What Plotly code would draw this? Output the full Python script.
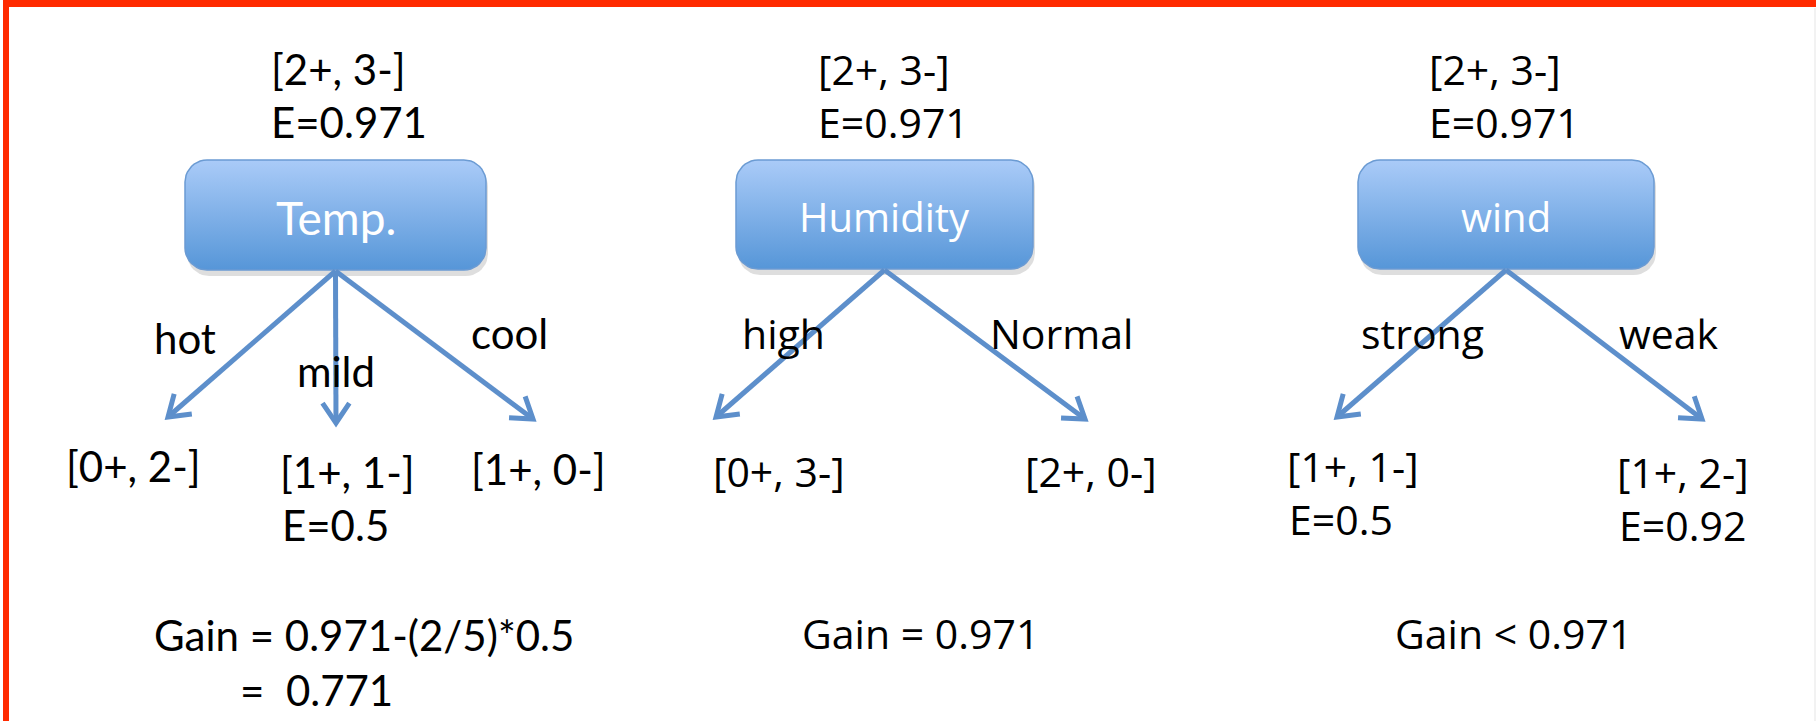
import math
import plotly.graph_objects as go

# --- diagram content -------------------------------------------------------
attributes = ["Temp.", "Humidity", "wind"]
parent_counts = ["[2+, 3-]", "[2+, 3-]", "[2+, 3-]"]
parent_entropy = ["E=0.971", "E=0.971", "E=0.971"]
branch_labels = [["hot", "mild", "cool"], ["high", "Normal"], ["strong", "weak"]]
child_counts = [["[0+, 2-]", "[1+, 1-]", "[1+, 0-]"], ["[0+, 3-]", "[2+, 0-]"], ["[1+, 1-]", "[1+, 2-]"]]
child_entropy = [["", "E=0.5", ""], ["", ""], ["E=0.5", "E=0.92"]]
gain_text = ["Gain = 0.971-(2/5)*0.5<br>        =  0.771", "Gain = 0.971", "Gain < 0.971"]

# --- layout (pixel space, y grows downward) --------------------------------
W, H = 1816, 721
fonts = ["Lato", "Open Sans", "Open Sans"]
fsize = [42, 41, 41]
label_size = [46, 40, 40]
boxes = [(185, 486, 160, 270), (736, 1033, 160, 269), (1358, 1654, 160, 269)]
head_x = [269, 816, 1427]
tips = [[(168, 417), (336, 423), (533, 419)], [(716, 417), (1085, 419)], [(1337, 417), (1702, 419)]]
label_pos = [[(185, 338), (336, 371), (509, 333)], [(783, 333), (1061, 333)], [(1422, 333), (1669, 333)]]
child_pos = [[(64, 466), (278, 472), (469, 469)], [(711, 471), (1023, 471)], [(1285, 466), (1615, 472)]]
gain_pos = [(152, 662, "left"), (920, 633, "center"), (1513, 633, "center")]

ARROW = "#5D8FCB"
BOX_TOP, BOX_BOT, BOX_LINE = "#AACBF8", "#5696D8", "#6B9BD3"


def rounded_rect(x0, x1, y0, y1, r=22, n=10):
    xs, ys = [], []
    corners = [(x1 - r, y0 + r, -90, 0), (x1 - r, y1 - r, 0, 90),
               (x0 + r, y1 - r, 90, 180), (x0 + r, y0 + r, 180, 270)]
    for cx, cy, a0, a1 in corners:
        for i in range(n + 1):
            a = math.radians(a0 + (a1 - a0) * i / n)
            xs.append(cx + r * math.cos(a))
            ys.append(cy + r * math.sin(a))
    xs.append(xs[0])
    ys.append(ys[0])
    return xs, ys


fig = go.Figure()
annotations = []

for k, name in enumerate(attributes):
    x0, x1, y0, y1 = boxes[k]
    cx = (x0 + x1) / 2
    font = dict(family=fonts[k], size=fsize[k], color="black")

    # shadow + gradient box
    sx, sy = rounded_rect(x0 + 2, x1 + 2, y0 + 5, y1 + 6)
    fig.add_trace(go.Scatter(x=sx, y=sy, fill="toself", mode="lines",
                             line=dict(width=0), fillcolor="rgba(0,0,0,0.13)",
                             hoverinfo="skip", showlegend=False))
    bx, by = rounded_rect(x0, x1, y0, y1)
    fig.add_trace(go.Scatter(x=bx, y=by, fill="toself", mode="lines",
                             line=dict(width=1.5, color=BOX_LINE),
                             fillgradient=dict(type="vertical",
                                               colorscale=[[0, BOX_BOT], [1, BOX_TOP]]),
                             hoverinfo="skip", showlegend=False))
    annotations.append(dict(x=cx, y=(y0 + y1) / 2 + 2, text=name, showarrow=False,
                            font=dict(family=fonts[k], size=label_size[k], color="white")))

    # parent stats
    annotations.append(dict(x=head_x[k], y=69, text=parent_counts[k], showarrow=False,
                            xanchor="left", font=font))
    annotations.append(dict(x=head_x[k], y=122, text=parent_entropy[k], showarrow=False,
                            xanchor="left", font=font))

    # branches
    ox, oy = cx, y1 + 1
    for j, (tx, ty) in enumerate(tips[k]):
        ang = math.atan2(oy - ty, ox - tx)
        hl, spread = 24, math.radians(34)
        ax1 = tx + hl * math.cos(ang + spread)
        ay1 = ty + hl * math.sin(ang + spread)
        ax2 = tx + hl * math.cos(ang - spread)
        ay2 = ty + hl * math.sin(ang - spread)
        fig.add_trace(go.Scatter(x=[ox, tx, None, ax1, tx, ax2],
                                 y=[oy, ty, None, ay1, ty, ay2],
                                 mode="lines", line=dict(color=ARROW, width=5),
                                 hoverinfo="skip", showlegend=False))
        lx, ly = label_pos[k][j]
        annotations.append(dict(x=lx, y=ly, text=branch_labels[k][j], showarrow=False,
                                font=font))
        px, py = child_pos[k][j]
        annotations.append(dict(x=px, y=py, text=child_counts[k][j], showarrow=False,
                                xanchor="left", font=font))
        if child_entropy[k][j]:
            annotations.append(dict(x=px + 2, y=py + 53, text=child_entropy[k][j],
                                    showarrow=False, xanchor="left", font=font))

    gx, gy, ga = gain_pos[k]
    annotations.append(dict(x=gx, y=gy, text=gain_text[k], showarrow=False,
                            xanchor=ga, align="left", font=font))

shapes = [
    dict(type="line", xref="x", yref="y", x0=3, x1=W, y0=3.5, y1=3.5,
         line=dict(color="#FF2A00", width=7), layer="above"),
    dict(type="line", xref="x", yref="y", x0=6, x1=6, y0=0, y1=H,
         line=dict(color="#FF2A00", width=6), layer="above"),
    dict(type="line", xref="x", yref="y", x0=1815, x1=1815, y0=8, y1=H,
         line=dict(color="#F2F2F2", width=2)),
]

fig.update_layout(
    width=W, height=H,
    margin=dict(l=0, r=0, t=0, b=0),
    paper_bgcolor="white", plot_bgcolor="white",
    xaxis=dict(range=[0, W], visible=False, fixedrange=True),
    yaxis=dict(range=[H, 0], visible=False, fixedrange=True),
    annotations=annotations,
    shapes=shapes,
    showlegend=False,
)

fig.write_html("out.html", config={"displayModeBar": False},
               post_script="document.body.style.margin='0px';")
